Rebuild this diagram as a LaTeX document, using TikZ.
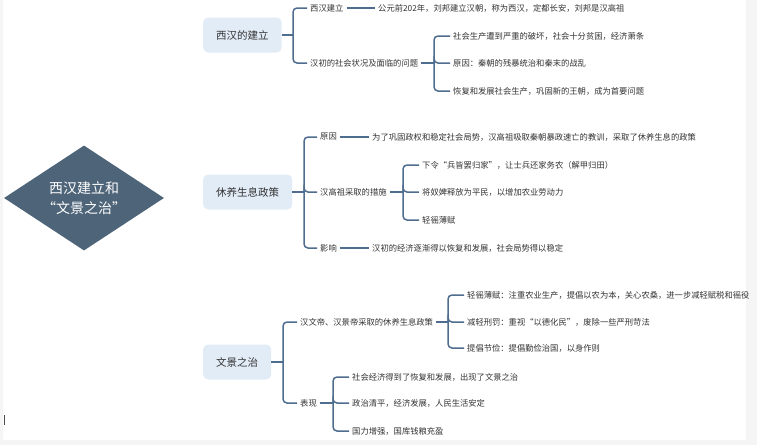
\documentclass[tikz,border=0pt]{standalone}
\usepackage{fontspec}
\setmainfont{Noto Sans CJK SC}
\usepackage{tikz}
\usetikzlibrary{shapes.geometric,backgrounds}
\definecolor{HSlate}{RGB}{78,100,121}
\definecolor{HLine}{RGB}{79,109,142}
\definecolor{HBox}{RGB}{226,236,247}
\definecolor{HText}{RGB}{51,51,51}

\tikzset{
  hub/.style={shape=diamond, aspect=1.52, fill=HSlate, text=white, minimum width=160pt,
    minimum height=105pt, inner sep=0pt, align=center,
    font=\fontsize{14}{20}\selectfont},
  topic/.style={fill=HBox, rounded corners=5pt, minimum height=35pt,
    inner xsep=13pt, text=HText, font=\fontsize{10.5}{12}\selectfont, anchor=west},
  leaf/.style={text=HText, font=\fontsize{8.3}{10}\selectfont, inner sep=3pt, anchor=west},
  link/.style={draw=HLine, line width=1.5pt},
  spine/.style={link, rounded corners=4pt},
}

\begin{document}
\begin{tikzpicture}[x=1pt,y=-1pt]
  \useasboundingbox (0,0) rectangle (757,445);
  \fill[black!4] (0,0) rectangle (757,445);
  \fill[white] (3,0) rectangle (746,440);
  \draw[black!70, line width=0.6pt] (4,415) -- (4,425);

  % centre
  \node[hub] (title) at (84,198) {西汉建立和\\“文景之治”};
  \coordinate (fork) at ([xshift=-21pt]title.east);

  % first level
  \node[topic] (est) at (203,35) {西汉的建立};
  \node[topic] (rest) at (203,192) {休养生息政策};
  \node[topic] (wenjing) at (203,362) {文景之治};

  \begin{scope}[on background layer]
    \foreach \b in {est,rest,wenjing}
      \draw[link] (fork) -- (\b.west);
  \end{scope}

  % 西汉的建立
  \coordinate (s1) at (293,35);
  \node[leaf] (est1) at (307,8) {西汉建立};
  \node[leaf] (est1a) at (375,8) {公元前202年，刘邦建立汉朝，称为西汉，定都长安，刘邦是汉高祖};
  \node[leaf] (est2) at (307,63) {汉初的社会状况及面临的问题};
  \coordinate (s12) at (434,63);
  \node[leaf] (est2a) at (450,36) {社会生产遭到严重的破坏，社会十分贫困，经济萧条};
  \node[leaf] (est2b) at (450,63) {原因：秦朝的残暴统治和秦末的战乱};
  \node[leaf] (est2c) at (450,91) {恢复和发展社会生产，巩固新的王朝，成为首要问题};

  \draw[link] (est.east) -- (s1);
  \foreach \c in {est1,est2}
    \draw[spine] (s1) |- (\c.west);
  \draw[link] (est1) -- (est1a);
  \draw[link] (est2.east) -- (s12);
  \foreach \c in {est2a,est2b,est2c}
    \draw[spine] (s12) |- (\c.west);

  % 休养生息政策
  \coordinate (s2) at (304,192);
  \node[leaf] (rest1) at (317,137) {原因};
  \node[leaf] (rest1a) at (369,137) {为了巩固政权和稳定社会局势，汉高祖吸取秦朝暴政速亡的教训，采取了休养生息的政策};
  \node[leaf] (rest2) at (317,192) {汉高祖采取的措施};
  \coordinate (s22) at (403,192);
  \node[leaf] (rest2a) at (419,165) {下令“兵皆罢归家”，让士兵还家务农（解甲归田）};
  \node[leaf] (rest2b) at (419,192) {将奴婢释放为平民，以增加农业劳动力};
  \node[leaf] (rest2c) at (419,220) {轻徭薄赋};
  \node[leaf] (rest3) at (317,248) {影响};
  \node[leaf] (rest3a) at (369,248) {汉初的经济逐渐得以恢复和发展，社会局势得以稳定};

  \draw[link] (rest.east) -- (s2);
  \foreach \c in {rest1,rest2,rest3}
    \draw[spine] (s2) |- (\c.west);
  \draw[link] (rest1) -- (rest1a);
  \draw[link] (rest3) -- (rest3a);
  \draw[link] (rest2.east) -- (s22);
  \foreach \c in {rest2a,rest2b,rest2c}
    \draw[spine] (s22) |- (\c.west);

  % 文景之治
  \coordinate (s3) at (283,362);
  \node[leaf] (wj1) at (297,322) {汉文帝、汉景帝采取的休养生息政策};
  \coordinate (s31) at (448,322);
  \node[leaf] (wj1a) at (464,295) {轻徭薄赋：注重农业生产，提倡以农为本，关心农桑，进一步减轻赋税和徭役};
  \node[leaf] (wj1b) at (464,322) {减轻刑罚：重视“以德化民”，废除一些严刑苛法};
  \node[leaf] (wj1c) at (464,348) {提倡节俭：提倡勤俭治国，以身作则};
  \node[leaf] (wj2) at (297,403) {表现};
  \coordinate (s32) at (333,403);
  \node[leaf] (wj2a) at (349,377) {社会经济得到了恢复和发展，出现了文景之治};
  \node[leaf] (wj2b) at (349,403) {政治清平，经济发展，人民生活安定};
  \node[leaf] (wj2c) at (349,431) {国力增强，国库钱粮充盈};

  \draw[link] (wenjing.east) -- (s3);
  \foreach \c in {wj1,wj2}
    \draw[spine] (s3) |- (\c.west);
  \draw[link] (wj1.east) -- (s31);
  \foreach \c in {wj1a,wj1b,wj1c}
    \draw[spine] (s31) |- (\c.west);
  \draw[link] (wj2.east) -- (s32);
  \foreach \c in {wj2a,wj2b,wj2c}
    \draw[spine] (s32) |- (\c.west);
\end{tikzpicture}
\end{document}
